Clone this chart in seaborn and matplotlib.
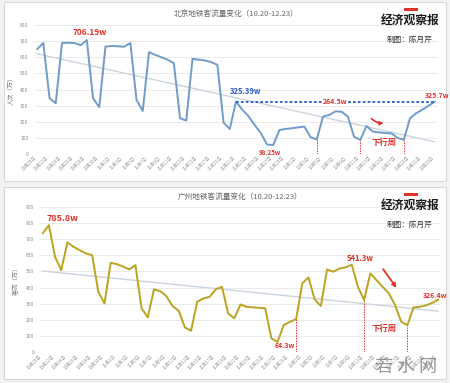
import numpy as np
import pandas as pd
import matplotlib
matplotlib.use("Agg")
import matplotlib.pyplot as plt
from matplotlib.patches import Rectangle
import seaborn as sns

# daily ridership, 10.20 - 12.23 (万人次)
dates = pd.date_range("2022-10-20", "2022-12-23", freq="D")
date_labels = [f"{d.month}月{d.day}日" for d in dates]

beijing = [650, 688, 346, 315, 688, 690, 688, 675, 706.19, 346,
           290, 666, 670, 668, 665, 688, 335, 267, 632, 615,
           600, 585, 563, 222, 207, 590, 585, 580, 570, 553,
           195, 155, 325.39, 275, 235, 180, 130, 58, 56, 149,
           155, 160, 165, 170, 104, 91, 232, 242, 264.5, 262,
           232, 107, 87, 174, 139, 134, 130, 128, 100, 88,
           222, 253, 275, 300, 325.7]

guangzhou = [735, 785.8, 590, 508, 679, 652, 631, 611, 600, 374,
             302, 553, 545, 530, 512, 539, 272, 216, 389, 378,
             348, 286, 257, 154, 133, 312, 333, 343, 389, 405,
             241, 210, 296, 281, 278, 275, 272, 86, 64.3, 168,
             189, 205, 426, 463, 327, 286, 512, 498, 518, 525,
             541.3, 405, 323, 488, 446, 405, 364, 292, 189, 168,
             278, 281, 290, 305, 326.4]

bj_marks = [45, 52, 59]
gz_marks = [41, 52, 59]

sns.set_style("white")
plt.rcParams['font.family'] = ['Noto Sans CJK SC', 'DejaVu Sans']

df = pd.DataFrame({"day": np.arange(len(dates)), "bj": beijing, "gz": guangzhou})

fig = plt.figure(figsize=(4.5, 3.83), dpi=100)
fig.patch.set_facecolor("#f3f3f3")

# screenshot panels
W, H = 450, 383
for (x0, y0, x1, y1) in [(4, 2, 446, 181), (4, 187, 446, 379)]:
    fig.patches.append(Rectangle((x0 / W, 1 - y1 / H), (x1 - x0) / W, (y1 - y0) / H,
                                 transform=fig.transFigure, facecolor="white",
                                 edgecolor="#d8d8d8", lw=0.8, zorder=-5))

ax1 = fig.add_axes([34 / W, 1 - 154 / H, 404 / W, 129 / H])
ax2 = fig.add_axes([39.6 / W, 1 - 352.3 / H, 401.8 / W, 145.6 / H])

red = "#e0302a"
blue = "#2a5cc8"


def style_axis(ax, ymax, ylabel, title):
    ax.set_facecolor("none")
    ax.set_xlim(-0.5, len(dates) - 0.5)
    ax.set_ylim(0, ymax)
    ax.set_yticks(np.arange(0, ymax + 1, 100))
    ax.tick_params(axis="y", labelsize=3.5, colors="#888888", length=0, pad=4)
    ax.set_xticks(np.arange(0, len(dates), 2))
    ax.set_xticklabels(date_labels[::2], rotation=45, ha="right",
                       fontsize=3.2, color="#9a9a9a")
    ax.tick_params(axis="x", length=0, pad=1)
    ax.grid(axis="y", color="#e6e6e6", lw=0.6)
    ax.set_axisbelow(True)
    for s in ax.spines.values():
        s.set_visible(False)
    ax.set_xlabel("")
    ax.set_ylabel(ylabel, fontsize=4.5, color="#777777", labelpad=4)
    ax.set_title(title, fontsize=5.5, color="#666666", pad=6)


# Beijing
sns.regplot(data=df, x="day", y="bj", ax=ax1, scatter=False, ci=None,
            line_kws=dict(color="#c9d3dd", lw=1.0))
sns.lineplot(data=df, x="day", y="bj", ax=ax1, color="#6f9cc8", lw=1.4)
style_axis(ax1, 800, "人次（万）", "北京地铁客流量变化（10.20-12.23）")

ax1.hlines(beijing[32], 32, 64, colors=blue, linestyles=(0, (1.5, 1.2)), lw=1.3)
for d in bj_marks:
    ax1.vlines(d, 0, beijing[d], colors=red, linestyles=(0, (1.5, 1.2)), lw=0.7)
ax1.text(8.5, 755, "706.19w", color=red, fontsize=6, ha="center", va="center", weight="bold")
ax1.text(33.5, 385, "325.39w", color=blue, fontsize=5.5, ha="center", va="center", weight="bold")
ax1.text(48, 325, "264.5w", color=red, fontsize=5, ha="center", va="center", weight="bold",
         bbox=dict(facecolor="white", edgecolor="none", pad=0.3))
ax1.text(37.5, 12, "98.25w", color=red, fontsize=4.5, ha="center", va="center", weight="bold")
ax1.text(55.8, 70, "下行周", color=red, fontsize=6, ha="center", va="center", weight="bold")
ax1.text(64.3, 360, "325.7w", color=red, fontsize=5, ha="center", va="center", weight="bold",
         clip_on=False)
ax1.annotate("", xy=(56.2, 195), xytext=(53.5, 232),
             arrowprops=dict(arrowstyle="-|>", color=red, lw=1.2,
                             connectionstyle="arc3,rad=0.3", mutation_scale=5))

# Guangzhou
sns.regplot(data=df, x="day", y="gz", ax=ax2, scatter=False, ci=None,
            line_kws=dict(color="#c9d3dd", lw=1.0))
sns.lineplot(data=df, x="day", y="gz", ax=ax2, color="#bba21f", lw=1.4)
style_axis(ax2, 900, "客流（万）", "广州地铁客流量变化（10.20-12.23）")

for d in gz_marks:
    ax2.vlines(d, 0, guangzhou[d], colors=red, linestyles=(0, (1.5, 1.2)), lw=0.7)
ax2.text(3.2, 830, "785.8w", color=red, fontsize=6.5, ha="center", va="center", weight="bold")
ax2.text(39.2, 45, "64.3w", color=red, fontsize=5, ha="center", va="center", weight="bold")
ax2.text(51.4, 578, "541.3w", color=red, fontsize=5.5, ha="center", va="center", weight="bold")
ax2.text(55.3, 150, "下行周", color=red, fontsize=6, ha="center", va="center", weight="bold")
ax2.text(63.5, 350, "326.4w", color=red, fontsize=5, ha="center", va="center", weight="bold",
         clip_on=False)
ax2.annotate("", xy=(57.5, 385), xytext=(54.8, 528),
             arrowprops=dict(arrowstyle="-|>", color=red, lw=1.3, mutation_scale=6))

# logo + credit
for y_logo, y_credit, y_tag in [(20, 40, 8), (205, 225, 193)]:
    fig.patches.append(Rectangle((404 / W, 1 - (y_tag + 3) / H), 14 / W, 3 / H,
                                 transform=fig.transFigure, facecolor=red,
                                 edgecolor="none", zorder=3))
    fig.text(410 / W, 1 - y_logo / H, "经济观察报", fontsize=8.5, weight="bold",
             color="#1a1a1a", ha="center", va="center")
    fig.text(410 / W, 1 - y_credit / H, "制图：陈月芹", fontsize=5.5,
             color="#333333", ha="center", va="center")

# watermark
fig.text(406 / W, 1 - 367 / H, "若 水 网", fontsize=13, color="#777777",
         alpha=0.75, ha="center", va="center")

fig.savefig("out.png", dpi=100, facecolor=fig.get_facecolor())
